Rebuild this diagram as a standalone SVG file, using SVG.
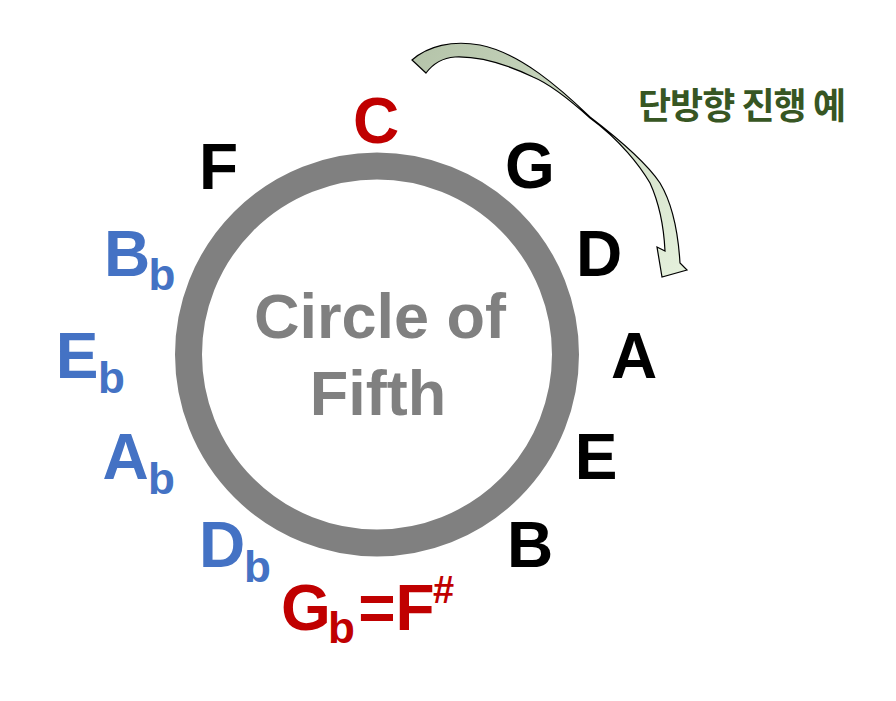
<svg xmlns="http://www.w3.org/2000/svg" width="896" height="701" viewBox="0 0 896 701">
<style>
.n{font-family:"Liberation Sans",Arial,sans-serif;font-weight:bold;font-size:64px;text-anchor:middle}
.s{font-size:44px}
.k{fill:#000000}
.r{fill:#C00000}
.bl{fill:#4472C4}
.title{font-family:"Liberation Sans",Arial,sans-serif;font-weight:bold;font-size:63px;fill:#808080;text-anchor:middle}
.ko{font-family:"Noto Sans CJK KR","Noto Sans",sans-serif;font-weight:bold;font-size:36px;fill:#375623}
</style>
<defs>
<linearGradient id="ag" gradientUnits="userSpaceOnUse" x1="412" y1="60" x2="680" y2="270">
<stop offset="0" stop-color="#B5C4AA"/>
<stop offset="1" stop-color="#E4F0DB"/>
</linearGradient>
</defs>
<rect width="896" height="701" fill="#FFFFFF"/>
<g id="circle">
<circle cx="377" cy="354.5" r="188.5" fill="none" stroke="#808080" stroke-width="27"/>
<text class="title" x="380" y="338">Circle of</text>
<text class="title" x="378" y="415">Fifth</text>
</g>
<g id="connectors">
<path d="M412,60 C428,46 452,40 480,45 C520,53 560,88 590,117 C620,140 648,165 660,183 C672,203 678,230 680,263 L687,270 L662,277 L657,247 L665,251 C664,230 660,205 650,183 C640,166 620,140 590,118 C570,100 550,84 533,77 C510,66 480,56 455,57 C442,58 432,65 426,73 Z" fill="url(#ag)" stroke="#000000" stroke-width="1.2" stroke-linejoin="miter"/>
</g>
<g id="label-direction"><text class="ko" x="638" y="119" textLength="208" lengthAdjust="spacing">단방향 진행 예</text></g>
<g id="note-C"><text class="n r" x="376" y="143">C</text></g>
<g id="note-G"><text class="n k" x="530" y="188">G</text></g>
<g id="note-D"><text class="n k" x="599" y="276">D</text></g>
<g id="note-A"><text class="n k" x="634" y="378">A</text></g>
<g id="note-E"><text class="n k" x="596" y="479">E</text></g>
<g id="note-B"><text class="n k" x="530" y="567">B</text></g>
<g id="note-Gb"><text class="n r" x="306" y="630">G</text><text class="n r s" x="341.5" y="643">b</text><text class="n r" x="377" y="630">=</text><text class="n r" x="415" y="630">F</text><text class="n r" x="443.5" y="603" style="font-size:38px">#</text></g>
<g id="note-Db"><text class="n bl" x="222" y="567">D</text><text class="n bl s" x="257.5" y="582">b</text></g>
<g id="note-Ab"><text class="n bl" x="125.5" y="479">A</text><text class="n bl s" x="161.5" y="494">b</text></g>
<g id="note-Eb"><text class="n bl" x="77" y="378">E</text><text class="n bl s" x="111.5" y="393">b</text></g>
<g id="note-Bb"><text class="n bl" x="127" y="276">B</text><text class="n bl s" x="162" y="290">b</text></g>
<g id="note-F"><text class="n k" x="218.5" y="189">F</text></g>
</svg>
